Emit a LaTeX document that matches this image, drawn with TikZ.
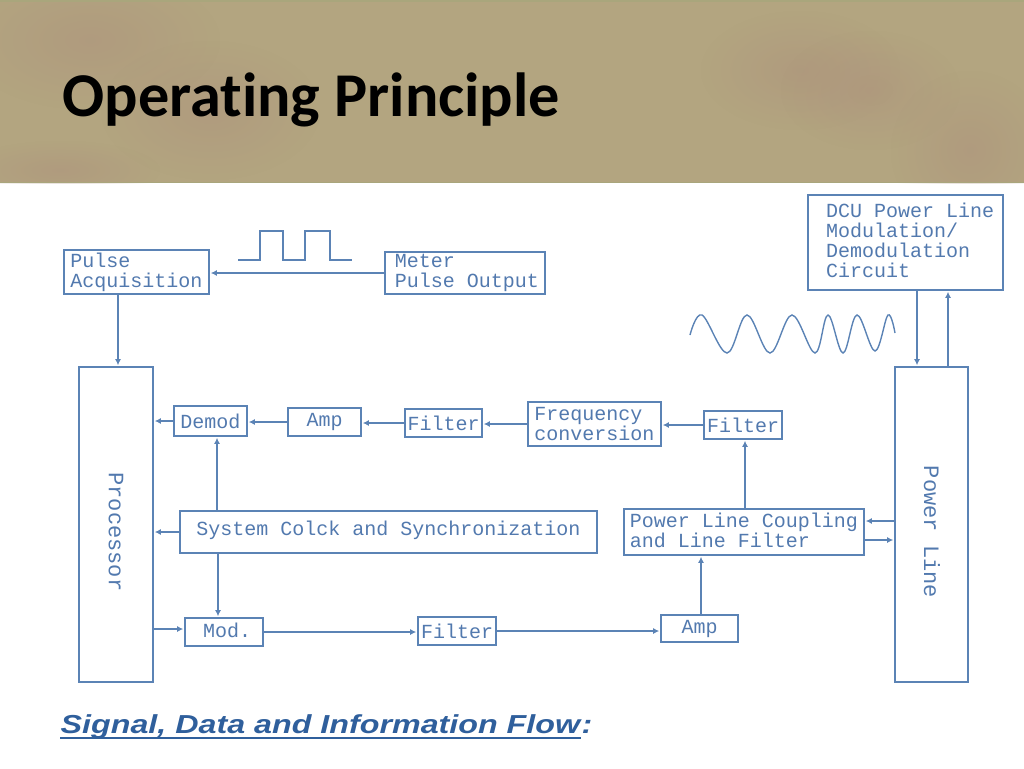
\documentclass[tikz,border=0pt]{standalone}
\usepackage{fontspec}
\setmainfont{Carlito}[Ligatures=NoCommon]
\newfontfamily\blockfont{Liberation Mono}
\newfontfamily\flowfont{Liberation Sans}[FakeStretch=1.24]
\usetikzlibrary{arrows.meta,positioning,fadings}
\definecolor{linecol}{HTML}{5B83B5}
\definecolor{textcol}{HTML}{5279AE}
\definecolor{flowcol}{HTML}{2F5F9C}
\definecolor{headcol}{HTML}{B3A580}
\definecolor{headpink}{HTML}{AC8F7C}
\definecolor{headedge}{HTML}{A9A67C}
\tikzfading[name=patchfade,inner color=transparent!55,outer color=transparent!100]
\newcommand{\nudged}[2]{\raisebox{#1}[\height][\depth]{#2}}
\begin{document}
\begin{tikzpicture}[x=1pt,y=-1pt,shorten >=1pt,-{Latex[length=6pt,width=6pt]},line width=1.4pt,draw=linecol]
  \tikzstyle{block}=[rectangle,draw=linecol,line width=1.6pt,inner sep=0pt,text=textcol,align=left,
    font=\blockfont\fontsize{20}{20}\selectfont]
  \tikzstyle{tall}=[rotate=-90,text=textcol,inner sep=0pt,font=\blockfont\fontsize{22}{22}\selectfont]
  \tikzstyle{trace}=[-,line width=1.4pt,draw=linecol,shorten >=0pt]
  \tikzstyle{patch}=[fill=headpink,path fading=patchfade,fit fading=true,draw=none]
  \useasboundingbox (0,0) rectangle (1024,768);
  \fill[headcol] (0,0) rectangle (1024,183);
  \begin{scope}
    \clip (0,0) rectangle (1024,183);
    \fill[patch] (100,40) rectangle +(220,140);
    \fill[patch] (-40,-30) rectangle (220,110);
    \fill[patch] (700,10) rectangle (900,130);
    \fill[patch] (780,30) rectangle (960,150);
    \fill[patch] (890,70) rectangle (1050,230);
    \fill[patch] (-40,140) rectangle (160,200);
  \end{scope}
  \fill[headedge] (0,0) rectangle (1024,2);
  \fill[headedge] (0,181.5) rectangle (1024,183);

  \node[anchor=base west,inner sep=0pt,font=\bfseries\fontsize{62.3}{66}\selectfont] (T_title) at (62,116) {Operating Principle};

  \node[block,minimum width=145,minimum height=44] (B_pulse) at (136.5,272) {Pulse\\Acquisition};
  \node[block,minimum width=160,minimum height=42] (B_meter) at (465,273) {\hspace*{4pt}Meter\\\hspace*{4pt}Pulse Output};
  \node[block,minimum width=74,minimum height=315] (B_proc) at (116,524.5) {};
  \node[block,minimum width=73,minimum height=30] (B_demod) at (210.5,421) {Demod};
  \node[block,minimum width=73,minimum height=28] (B_amp) at (324.5,422) {Amp};
  \node[block,minimum width=77,minimum height=28] (B_filter) at (443.5,423) {Filter};
  \node[block,minimum width=133,minimum height=44] (B_freq) at (594.5,424) {Frequency\\conversion};
  \node[block,minimum width=78,minimum height=28] (B_filter') at (743,425) {Filter};
  \node[block,minimum width=417,minimum height=42] (B_clock) at (388.5,532) {\nudged{2pt}{System Colck and Synchronization}};
  \node[block,minimum width=240,minimum height=46] (B_couple) at (744,532) {\nudged{2pt}{Power Line Coupling}\\\nudged{2pt}{and Line Filter}};
  \node[block,minimum width=73,minimum height=315] (B_line) at (931.5,524.5) {};
  \node[block,minimum width=195,minimum height=95] (B_dcu) at (905.5,242.5) {\hspace*{9pt}\nudged{2.5pt}{DCU Power Line}\\\hspace*{9pt}\nudged{2.5pt}{Modulation/}\\\hspace*{9pt}\nudged{2.5pt}{Demodulation}\\\hspace*{9pt}\nudged{2.5pt}{Circuit}};
  \node[block,minimum width=78,minimum height=28] (B_mod) at (224,632) {\hspace*{6pt}\nudged{2pt}{Mod.}};
  \node[block,minimum width=78,minimum height=28] (B_filter'') at (457,631) {Filter};
  \node[block,minimum width=77,minimum height=27] (B_amp') at (699.5,628.5) {Amp};

  \node[tall] (T_proc) at (116,532) {Processor};
  \node[tall] (T_line) at (932,532) {Power Line};

  \draw (B_meter.west) -- (B_meter.west -| B_pulse.east);
  \draw (118,0 |- B_pulse.south) -- (118,0 |- B_proc.north);
  \draw (B_demod.west) -- (B_demod.west -| B_proc.east);
  \draw (B_amp.west) -- (B_amp.west -| B_demod.east);
  \draw (B_filter.west) -- (B_filter.west -| B_amp.east);
  \draw (B_freq.west) -- (B_freq.west -| B_filter.east);
  \draw (B_filter'.west) -- (B_filter'.west -| B_freq.east);
  \draw (745,0 |- B_couple.north) -- (745,0 |- B_filter'.south);
  \draw (B_line.west |- 0,521) -- (B_couple.east |- 0,521);
  \draw (B_couple.east |- 0,540) -- (B_line.west |- 0,540);
  \draw (917,0 |- B_dcu.south) -- (917,0 |- B_line.north);
  \draw (948,0 |- B_line.north) -- (948,0 |- B_dcu.south);
  \draw (B_clock.west) -- (B_clock.west -| B_proc.east);
  \draw (217,0 |- B_clock.north) -- (217,0 |- B_demod.south);
  \draw (218,0 |- B_clock.south) -- (218,0 |- B_mod.north);
  \draw (B_proc.east |- 0,629) -- (B_mod.west |- 0,629);
  \draw (B_mod.east) -- (B_mod.east -| B_filter''.west);
  \draw (B_filter''.east) -- (B_filter''.east -| B_amp'.west);
  \draw (701,0 |- B_amp'.north) -- (701,0 |- B_couple.south);

  % pulse train and carrier
  \draw[trace] (238,260) -- (260,260) -- (260,231) -- (283,231) -- (283,260) -- (305,260) -- (305,231) -- (330,231) -- (330,260) -- (352,260);
  \draw[trace] plot[smooth,tension=0.6] coordinates {(690,335) (702,315) (727,353) (747,315) (770,353) (792,315) (815,353) (828,315) (843,353) (857,315) (875,351) (888,315) (895,333)};

  \node[anchor=base west,inner sep=0pt,text=flowcol,font=\flowfont\bfseries\itshape\fontsize{26}{30}\selectfont] (T_flow) at (60,733) {Signal, Data and Information Flow};
  \node[base right=0pt of T_flow,inner sep=0pt,text=flowcol,font=\flowfont\bfseries\itshape\fontsize{26}{30}\selectfont] (T_colon) {:};
  \draw[trace,line width=2.4pt,draw=flowcol] ([yshift=-5pt]T_flow.base west) -- ([yshift=-5pt]T_flow.base east);
\end{tikzpicture}
\end{document}
